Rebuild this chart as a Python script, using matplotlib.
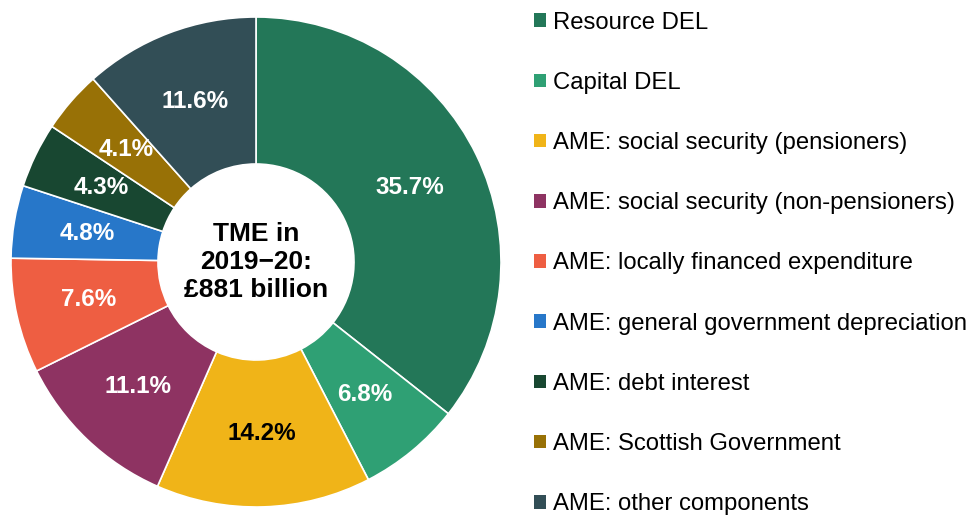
import matplotlib
matplotlib.use("Agg")
import matplotlib.pyplot as plt
from matplotlib.patches import Patch
import numpy as np

categories = [
    "Resource DEL",
    "Capital DEL",
    "AME: social security (pensioners)",
    "AME: social security (non-pensioners)",
    "AME: locally financed expenditure",
    "AME: general government depreciation",
    "AME: debt interest",
    "AME: Scottish Government",
    "AME: other components",
]
values = [35.7, 6.8, 14.2, 11.1, 7.6, 4.8, 4.3, 4.1, 11.6]
colors = ["#237758", "#2fa074", "#f0b418", "#8e3362", "#ee5e42",
          "#2777c9", "#184731", "#987106", "#324e56"]
label_colors = ["white", "white", "black", "white", "white",
                "white", "white", "white", "white"]
center_text = "TME in\n2019\u221220:\n£881 billion"

plt.rcParams["font.family"] = ["Liberation Sans", "DejaVu Sans"]

W, H = 970, 515
fig = plt.figure(figsize=(W / 100, H / 100), dpi=100)
cx, cy, R = 256, 262, 245
ax = fig.add_axes([(cx - R) / W, (H - cy - R) / H, 2 * R / W, 2 * R / H])

wedges, _ = ax.pie(values, colors=colors, startangle=90, counterclock=False,
                   radius=1.0,
                   wedgeprops=dict(width=0.6, edgecolor="white", linewidth=1.2))

total = sum(values)
cum = 0
for v, lc in zip(values, label_colors):
    mid = 90 - (cum + v / 2) / total * 360
    cum += v
    r = 0.70
    ax.text(r * np.cos(np.radians(mid)), r * np.sin(np.radians(mid)),
            f"{v:.1f}%", ha="center", va="center", color=lc,
            fontsize=17.5, fontweight="bold")

ax.text(0, 0.0, center_text, ha="center", va="center", fontsize=19,
        fontweight="bold", color="black", linespacing=1.2)
ax.set_xlim(-1, 1)
ax.set_ylim(-1, 1)
ax.set_aspect("equal")
ax.axis("off")

handles = [Patch(facecolor=c, edgecolor="none") for c in colors]
fig.legend(handles, categories, loc="center left",
           bbox_to_anchor=(534 / W, 1 - 263.5 / H), frameon=False,
           fontsize=17.2, handlelength=0.5, handleheight=0.5,
           handletextpad=0.3, borderpad=0, borderaxespad=0,
           labelspacing=1.6)

fig.savefig("out.png", dpi=100)
